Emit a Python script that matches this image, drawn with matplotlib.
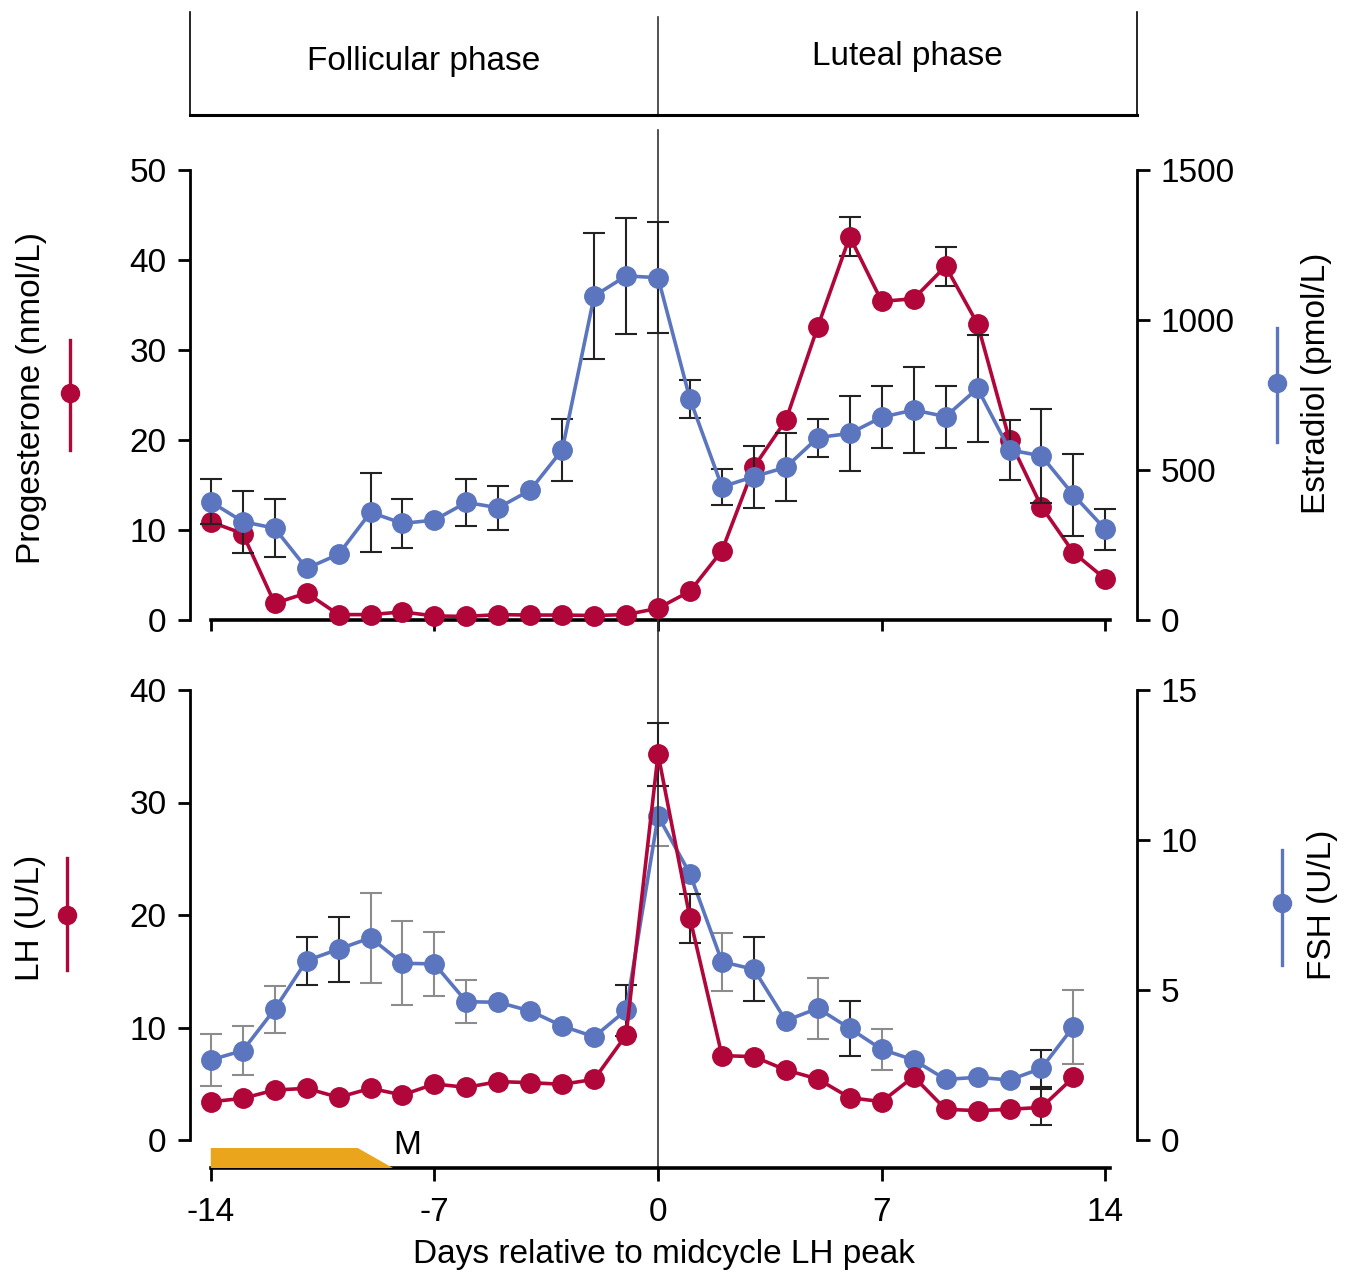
import numpy as np
import matplotlib
matplotlib.use('Agg')
import matplotlib.pyplot as plt
from matplotlib.lines import Line2D
from matplotlib.patches import Polygon

plt.rcParams['font.family'] = ['Liberation Sans', 'DejaVu Sans']
plt.rcParams['axes.unicode_minus'] = False

# ---------------- data ----------------
days_top = list(range(-14, 15))
progesterone = [10.9, 9.6, 1.85, 3.0, 0.6, 0.6, 0.9, 0.45, 0.4, 0.6, 0.55, 0.55, 0.5, 0.6, 1.3,
                3.2, 7.7, 17.0, 22.2, 32.6, 42.6, 35.4, 35.7, 39.3, 32.9, 20.0, 12.6, 7.5, 4.55]
progesterone_err = {6: 2.2, 9: 2.2}
estradiol = [394, 328, 306, 172, 219, 359, 322, 333, 392, 374, 433, 567, 1080, 1147, 1141,
             736, 444, 478, 509, 608, 622, 676, 700, 678, 772, 567, 547, 417, 302]
estradiol_err = [75, 103, 96, 0, 0, 132, 82, 0, 78, 74, 0, 102, 209, 194, 185,
                 64, 60, 103, 113, 63, 124, 103, 142, 103, 179, 100, 156, 136, 68]

days_bot = list(range(-14, 14))
lh = [3.4, 3.7, 4.44, 4.59, 3.79, 4.59, 4.0, 4.98, 4.68, 5.19, 5.1, 4.95, 5.39, 9.33, 34.3,
      19.7, 7.5, 7.41, 6.22, 5.42, 3.76, 3.41, 5.63, 2.73, 2.61, 2.73, 2.9, 5.57]
lh_err = {0: 2.8, 1: 2.2, 12: 1.6}
fsh = [2.67, 2.98, 4.36, 5.98, 6.36, 6.74, 5.89, 5.87, 4.61, 4.59, 4.3, 3.8, 3.44, 4.33, 10.8,
       8.87, 5.94, 5.69, 3.98, 4.39, 3.72, 3.02, 2.67, 2.02, 2.09, 2.0, 2.39, 3.78]
fsh_err = [0.88, 0.82, 0.78, 0.8, 1.09, 1.49, 1.4, 1.07, 0.72, 0, 0, 0, 0, 0.85, 1.0,
           0, 0.96, 1.07, 0, 1.02, 0.93, 0.67, 0, 0, 0, 0, 0.61, 1.23]

menses_start, menses_full_end, menses_taper_end = -14, -9.4, -8.3

phase_labels = ['Follicular phase', 'Luteal phase']
xticks = [-14, -7, 0, 7, 14]
xtick_labels = ['-14', '-7', '0', '7', '14']

# ---------------- style ----------------
RED = '#B0063A'
BLUE = '#5B76BE'
ORANGE = '#EBA51C'
GREY = '#8C8C8C'
FS = 24
W, H = 1345, 1276
XLIM = (-14.65, 14.99)
SP = 2.0
LW = 2.6

fig = plt.figure(figsize=(W / 100, H / 100), dpi=100)


def fx(px):
    return px / W


def fy(py):
    return 1 - py / H


L, R = 190, 1137
# header
axh = fig.add_axes([fx(L), fy(115), fx(R - L), (115 - 12) / H])
axh.set_xlim(*XLIM)
axh.set_ylim(0, 1)
axh.set_xticks([])
axh.set_yticks([])
axh.spines['top'].set_visible(False)
for s in ['left', 'right']:
    axh.spines[s].set_linewidth(1.2)
axh.spines['bottom'].set_linewidth(2.2)
axh.axvline(0, ymin=0, ymax=0.95, color='#333333', lw=1.2)
axh.text((XLIM[0] + 0) / 2, 0.52, phase_labels[0], ha='center', va='center', fontsize=FS)
axh.text((XLIM[1] + 0) / 2 + 0.3, 0.57, phase_labels[1], ha='center', va='center', fontsize=FS)


def style_axes(ax, side):
    for s in ['top', 'left', 'right', 'bottom']:
        ax.spines[s].set_visible(False)
    ax.spines[side].set_visible(True)
    ax.spines[side].set_linewidth(SP)
    ax.tick_params(axis='y', direction='out', length=9, width=SP, labelsize=FS, pad=8)


# ---------------- top panel ----------------
ax1 = fig.add_axes([fx(L), fy(620), fx(R - L), 450 / H])
ax1.set_xlim(*XLIM)
ax1.set_ylim(0, 50)
style_axes(ax1, 'left')
ax1.spines['bottom'].set_visible(True)
ax1.spines['bottom'].set_linewidth(SP + 0.6)
ax1.spines['bottom'].set_bounds(-14, 14.15)
ax1.set_xticks(xticks)
ax1.set_xticklabels([])
ax1.tick_params(axis='x', direction='out', length=8, width=SP)
ax1.set_yticks([0, 10, 20, 30, 40, 50])
ax1.axvline(0, ymin=0, ymax=(620 - 130) / 450, color='#333333', lw=1.2, clip_on=False, zorder=1)

ax1r = ax1.twinx()
ax1r.set_xlim(*XLIM)
ax1r.set_ylim(0, 1500)
style_axes(ax1r, 'right')
ax1r.set_yticks([0, 500, 1000, 1500])

# progesterone (red) on left
pe_x = [d for d in progesterone_err]
pe_y = [progesterone[days_top.index(d)] for d in pe_x]
ax1.errorbar(pe_x, pe_y, yerr=[progesterone_err[d] for d in pe_x], fmt='none', ecolor='#222222',
             elinewidth=1.5, capsize=8, capthick=1.5, zorder=2, clip_on=False)
ax1.plot(days_top, progesterone, color=RED, lw=LW, marker='o', ms=14, mec=RED, zorder=3, clip_on=False)

# estradiol (blue) on right
ee_x = [d for d, e in zip(days_top, estradiol_err) if e > 0]
ee_y = [v for v, e in zip(estradiol, estradiol_err) if e > 0]
ee_e = [e for e in estradiol_err if e > 0]
ax1r.errorbar(ee_x, ee_y, yerr=ee_e, fmt='none', ecolor='#222222',
              elinewidth=1.5, capsize=8, capthick=1.5, zorder=2, clip_on=False)
ax1r.plot(days_top, estradiol, color=BLUE, lw=LW, marker='o', ms=14, mec=BLUE, zorder=3, clip_on=False)

# ---------------- bottom panel ----------------
ybot = -(1168 - 1140) / 11.25
ax2 = fig.add_axes([fx(L), fy(1168), fx(R - L), 478 / H])
ax2.set_xlim(*XLIM)
ax2.set_ylim(ybot, 40)
style_axes(ax2, 'left')
ax2.spines['left'].set_bounds(0, 40)
ax2.spines['bottom'].set_visible(True)
ax2.spines['bottom'].set_linewidth(SP + 0.6)
ax2.spines['bottom'].set_bounds(-14, 14.15)
ax2.set_xticks(xticks)
ax2.set_xticklabels(xtick_labels)
ax2.tick_params(axis='x', direction='out', length=9, width=SP, labelsize=FS, pad=12)
ax2.set_yticks([0, 10, 20, 30, 40])
ax2.set_xlabel('Days relative to midcycle LH peak', fontsize=FS, labelpad=8)
ax2.axvline(0, ymin=-10 / 478, ymax=(1168 - 620) / 478, color='#333333', lw=1.2, clip_on=False, zorder=1)

ax2r = ax2.twinx()
ax2r.set_xlim(*XLIM)
ax2r.set_ylim(ybot * 15 / 40, 15)
style_axes(ax2r, 'right')
ax2r.spines['right'].set_bounds(0, 15)
ax2r.set_yticks([0, 5, 10, 15])

# keep LH (red) on top
ax2.set_zorder(ax2r.get_zorder() + 1)
ax2.patch.set_visible(False)

fsh_bar_colors = ['grey', 'grey', 'grey', 'black', 'black', 'grey', 'grey', 'grey', 'grey', None, None, None, None,
                  'black', 'grey', None, 'grey', 'black', None, 'grey', 'black', 'grey', None, None, None, None,
                  'black', 'grey']
for d, v, e, c in zip(days_bot, fsh, fsh_err, fsh_bar_colors):
    if e > 0:
        ax2r.errorbar([d], [v], yerr=[e], fmt='none', ecolor=(GREY if c == 'grey' else '#222222'),
                      elinewidth=1.5, capsize=8, capthick=1.5, zorder=2, clip_on=False)
ax2r.plot(days_bot, fsh, color=BLUE, lw=LW, marker='o', ms=14, mec=BLUE, zorder=3, clip_on=False)

le_x = [d for d in lh_err]
le_y = [lh[days_bot.index(d)] for d in le_x]
ax2.errorbar(le_x, le_y, yerr=[lh_err[d] for d in le_x], fmt='none', ecolor='#222222',
             elinewidth=1.5, capsize=8, capthick=1.5, zorder=2, clip_on=False)
ax2.plot(days_bot, lh, color=RED, lw=LW, marker='o', ms=14, mec=RED, zorder=3, clip_on=False)

# menses bar
ytop_m = -(1148 - 1140) / 11.25
poly = Polygon([(menses_start, ybot), (menses_start, ytop_m), (menses_full_end, ytop_m),
                (menses_taper_end, ybot)], closed=True, facecolor=ORANGE, edgecolor='none',
               zorder=4, clip_on=False)
ax2.add_patch(poly)
ax2.text(menses_taper_end, -(1145 - 1140) / 11.25, 'M', fontsize=FS, ha='left', va='center')

# ---------------- axis labels with keys ----------------
fig.text(fx(32), fy(398), 'Progesterone (nmol/L)', rotation=90, ha='center', va='center', fontsize=FS)
fig.text(fx(1316), fy(383), 'Estradiol (pmol/L)', rotation=90, ha='center', va='center', fontsize=FS)
fig.text(fx(30), fy(918), 'LH (U/L)', rotation=90, ha='center', va='center', fontsize=FS)
fig.text(fx(1322), fy(905), 'FSH (U/L)', rotation=90, ha='center', va='center', fontsize=FS)


def key(xp, y0, y1, ym, color):
    fig.add_artist(Line2D([fx(xp), fx(xp)], [fy(y0), fy(y1)], color=color, lw=2.4))
    fig.add_artist(Line2D([fx(xp)], [fy(ym)], color=color, marker='o', ms=13, mec=color))


key(70, 340, 450, 393, RED)
key(1277, 328, 442, 383, BLUE)
key(67, 858, 970, 915, RED)
key(1282, 850, 965, 903, BLUE)

fig.savefig('out.png', dpi=100)
